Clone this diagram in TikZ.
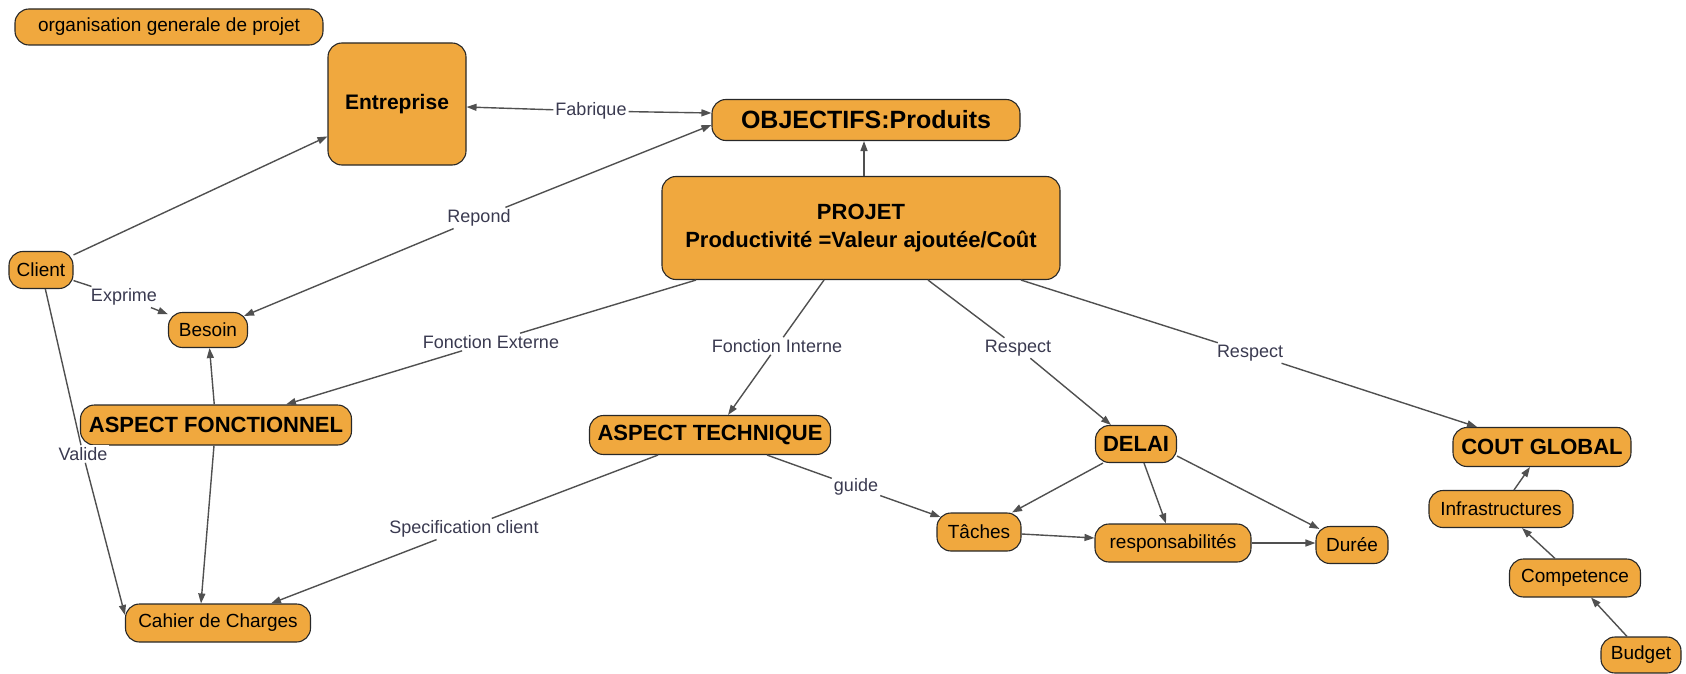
\documentclass[tikz,border=0pt]{standalone}
\usepackage{fontspec}
\setmainfont{Liberation Sans}
\usetikzlibrary{arrows.meta}
\definecolor{nodeor}{RGB}{240,168,62}
\definecolor{nodeline}{RGB}{40,40,40}
\definecolor{linkcol}{RGB}{80,80,80}
\definecolor{labcol}{RGB}{58,58,80}
\tikzset{
  concept/.style={draw=nodeline, line width=1.1pt, fill=nodeor, rounded corners=14pt,
    inner sep=0pt, align=center, text=black, font=\fontsize{19}{22}\selectfont},
  bconcept/.style={concept, font=\bfseries\fontsize{22}{28}\selectfont},
  linklab/.style={fill=white, inner sep=2pt, text=labcol, font=\fontsize{18}{20}\selectfont},
  conn/.style={draw=linkcol, line width=1.4pt},
  arr/.style={conn, -{Triangle[length=10pt,width=7pt]}},
  barr/.style={conn, {Triangle[length=10pt,width=7pt]}-{Triangle[length=10pt,width=7pt]}}
}
\begin{document}
\begin{tikzpicture}[x=1pt,y=-1pt]
\useasboundingbox (0,0) rectangle (1686,674);
% concepts
\node[concept, minimum width=308pt, minimum height=36pt] (org) at (169,27) {organisation generale de projet};
\node[bconcept, minimum width=138pt, minimum height=122pt, font=\bfseries\fontsize{21}{26}\selectfont] (ent) at (397,104) {Entreprise};
\node[bconcept, minimum width=308pt, minimum height=41pt, font=\bfseries\fontsize{25}{28}\selectfont] (obj) at (866,120) {OBJECTIFS:Produits};
\node[bconcept, minimum width=398pt, minimum height=103pt] (proj) at (861,228) {PROJET\\Productivité =Valeur ajoutée/Coût};
\node[concept, minimum width=64pt, minimum height=37pt] (cl) at (41,270) {Client};
\node[concept, minimum width=79pt, minimum height=35pt] (bes) at (208,330) {Besoin};
\node[bconcept, minimum width=271pt, minimum height=40pt] (af) at (216,425) {ASPECT FONCTIONNEL};
\node[bconcept, minimum width=241pt, minimum height=39pt] (at) at (710,435) {ASPECT TECHNIQUE};
\node[bconcept, minimum width=81pt, minimum height=37pt] (del) at (1136,444) {DELAI};
\node[bconcept, minimum width=178pt, minimum height=39pt] (cout) at (1542,447) {COUT GLOBAL};
\node[concept, minimum width=84pt, minimum height=38pt] (tac) at (979,532) {Tâches};
\node[concept, minimum width=156pt, minimum height=38pt] (resp) at (1173,543) {responsabilités};
\node[concept, minimum width=72pt, minimum height=37pt] (dur) at (1352,545) {Durée};
\node[concept, minimum width=144pt, minimum height=37pt] (inf) at (1501,509) {Infrastructures};
\node[concept, minimum width=131pt, minimum height=38pt] (comp) at (1575,578) {Competence};
\node[concept, minimum width=80pt, minimum height=36pt] (bud) at (1641,655) {Budget};
\node[concept, minimum width=185pt, minimum height=38pt] (cah) at (218,623) {Cahier de Charges};
% link labels
\node[linklab] (lfab) at (591,111) {Fabrique};
\node[linklab] (lrep) at (479,218) {Repond};
\node[linklab] (lexp) at (124,297) {Exprime};
\node[linklab] (lval) at (83,454) {Valide};
\node[linklab] (lfe) at (491,342) {Fonction Externe};
\node[linklab] (lfi) at (777,346) {Fonction Interne};
\node[linklab] (lr1) at (1018,348) {Respect};
\node[linklab] (lr2) at (1250,353) {Respect};
\node[linklab] (lsc) at (464,529) {Specification client};
\node[linklab] (lgu) at (856,487) {guide};
% connectors
\draw[conn, {Triangle[length=10pt,width=7pt]}-] ([yshift=-3pt]ent.east) -- (lfab);
\draw[arr] (lfab) -- ([yshift=7pt]obj.west);
\draw[conn, {Triangle[length=10pt,width=7pt]}-] ([xshift=-4pt,yshift=-4pt]bes.north east) -- (lrep);
\draw[arr] (lrep) -- ([yshift=-5pt]obj.west);
\draw[arr] (cl) -- (ent);
\draw[conn] (cl) -- (lexp);
\draw[arr] (lexp) -- (bes);
\draw[conn] (cl) -- (lval);
\draw[arr] (lval) -- ([yshift=8pt]cah.west);
\draw[arr] (af) -- (bes);
\draw[arr] ([xshift=-2pt]af.south) -- ([xshift=-17pt]cah.north);
\draw[arr] ([xshift=3pt]proj.north) -- ([xshift=-2pt]obj.south);
\draw[conn] ([xshift=-165pt]proj.south) -- (lfe);
\draw[arr] (lfe) -- ([xshift=70pt]af.north);
\draw[conn] ([xshift=-37pt]proj.south) -- (lfi);
\draw[arr] (lfi) -- ([xshift=18pt]at.north);
\draw[conn] ([xshift=67pt]proj.south) -- (lr1);
\draw[arr] (lr1) -- ([xshift=-25pt]del.north);
\draw[conn] ([xshift=160pt]proj.south) -- (lr2);
\draw[arr] (lr2) -- ([xshift=-65pt]cout.north);
\draw[conn] ([xshift=-52pt]at.south) -- (lsc);
\draw[arr] (lsc) -- ([xshift=53pt]cah.north);
\draw[conn] ([xshift=57pt]at.south) -- (lgu);
\draw[arr] (lgu) -- ([xshift=4pt,yshift=15pt]tac.west);
\draw[arr] ([xshift=-33pt]del.south) -- ([xshift=33pt]tac.north);
\draw[arr] ([xshift=8pt]del.south) -- ([xshift=-7pt]resp.north);
\draw[arr] ([yshift=-12pt]del.east) -- ([xshift=4pt,yshift=-3pt]dur.north west);
\draw[arr] ([yshift=-2pt]tac.east) -- ([yshift=5pt]resp.west);
\draw[arr] (resp.east) -- ([yshift=2pt]dur.west);
\draw[arr] ([xshift=13pt]inf.north) -- ([xshift=-12pt]cout.south);
\draw[arr] ([xshift=-20pt]comp.north) -- ([xshift=21pt]inf.south);
\draw[arr] ([xshift=-14pt]bud.north) -- ([xshift=16pt]comp.south);
\end{tikzpicture}
\end{document}
